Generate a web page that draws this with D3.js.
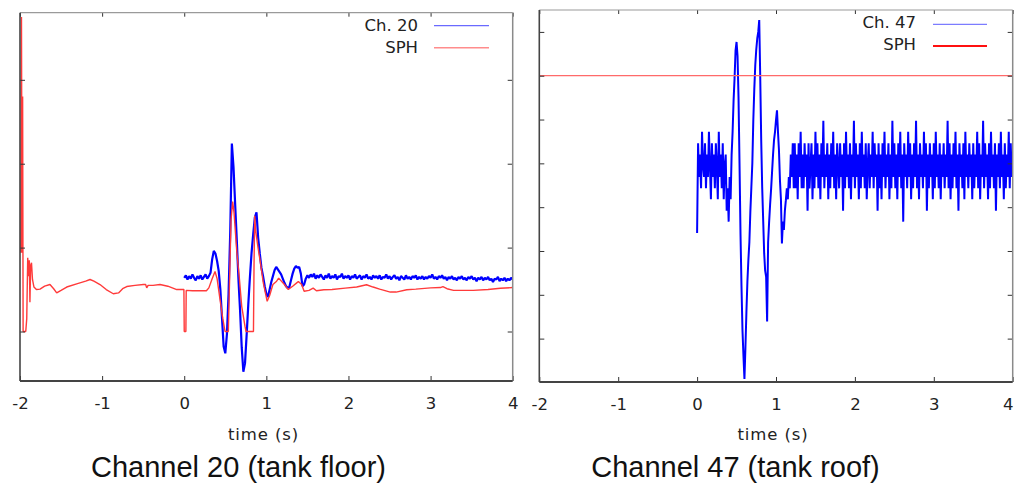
<!DOCTYPE html>
<html>
<head>
<meta charset="utf-8">
<script src="https://cdn.jsdelivr.net/npm/d3@7"></script>
<style>
  body { margin: 0; background: #fff; }
  svg { display: block; }
  .tick text { font-family: "DejaVu Sans", sans-serif; font-size: 16.5px; fill: #222; }
  .gp-text { font-family: "DejaVu Sans", sans-serif; font-size: 16.5px; fill: #222; }
  .caption { font-family: "Liberation Sans", Arial, sans-serif; font-size: 29px; fill: #111; }
</style>
</head>
<body>
<svg id="chart" width="1016" height="486"></svg>
<script>
// ---- shared time axis ----
const timeDomain = [-2, 4];
const timeTicks = [-2, -1, 0, 1, 2, 3, 4];

// ---- Channel 20 (tank floor): sensor sampled every 0.02 s from t = 0 ----
const ch20Start = 0;
const ch20Dt = 0.02;
const ch20Values = [
  6.4, 6.7, 6.2, 6.6, 6.3, 6.8, 6.4, 6.1, 6.6, 6.3, 6.7, 6.2, 6.5, 6.8, 6.3, 6.6,
  7.0, 8.6, 9.6, 9.3, 8.4, 7.2, 5.0, 1.6, -1.8, -2.6,
  -0.3, 4.5, 11.8, 22.4, 19.6, 15.2, 10.9, 6.3, 2.5, -1.9,
  -4.8, -3.8, -0.4, 3.2, 6.5, 9.4, 11.6, 13.6, 14.2, 11.2,
  9.3, 7.6, 6.6, 5.4, 4.5, 4.1, 5.0, 5.9, 6.6, 7.3,
  7.7, 7.4, 7.1, 6.8, 6.3, 5.8, 5.4, 5.2, 5.3, 6.1,
  6.9, 7.5, 7.8, 7.6, 7.7, 6.9, 5.4, 5.6, 6.3, 6.7,
  6.4, 6.8, 6.5, 6.9, 6.3, 6.7, 6.4, 6.8, 6.5, 6.2,
  6.7, 6.4, 6.9, 6.3, 6.6, 6.4, 6.8, 6.2, 6.6, 6.5,
  6.9, 6.3, 6.6, 6.4, 6.7, 6.2, 6.6, 6.4, 6.8, 6.3,
  6.5, 6.7, 6.2, 6.6, 6.4, 6.8, 6.3, 6.5, 6.2, 6.7,
  6.4, 6.6, 6.3, 6.7, 6.2, 6.5, 6.4, 6.8, 6.3, 6.6,
  6.2, 6.5, 6.7, 6.3, 6.5, 6.1, 6.6, 6.4, 6.2, 6.7,
  6.3, 6.5, 6.2, 6.6, 6.4, 6.7, 6.2, 6.5, 6.3, 6.6,
  6.2, 6.5, 6.3, 6.6, 6.4, 6.8, 6.3, 6.5, 6.2, 6.6,
  6.4, 6.7, 6.3, 6.5, 6.1, 6.5, 6.3, 6.6, 6.2, 6.4,
  6.1, 6.5, 6.3, 6.6, 6.2, 6.4, 6.1, 6.5, 6.3, 6.6,
  6.2, 6.4, 6.0, 6.4, 6.2, 6.5, 6.1, 6.4, 6.2, 6.5,
  6.1, 6.3, 5.9, 6.3, 6.2, 6.5, 6.0, 6.3, 6.1, 6.4,
  6.0, 6.3, 6.1, 6.4, 6.2
];

// SPH result at the floor gauge: [time (s), value]
const sphFloor = [
  [-1.990, 9.4], [-1.982, 37.5], [-1.975, 9.4], [-1.968, 28.0], [-1.962, 0.0], [-1.930, 0.0],
  [-1.918, 1.5], [-1.906, 8.8], [-1.896, 6.6], [-1.887, 8.5], [-1.879, 3.5],
  [-1.870, 7.9], [-1.860, 8.2], [-1.848, 6.2], [-1.830, 5.3], [-1.800, 5.0],
  [-1.756, 5.05], [-1.700, 5.4], [-1.635, 5.6], [-1.590, 5.1], [-1.553, 4.6],
  [-1.500, 4.9], [-1.431, 5.3], [-1.300, 5.7], [-1.200, 6.0], [-1.147, 6.2],
  [-1.100, 6.0], [-1.026, 5.6], [-0.950, 5.0], [-0.864, 4.5], [-0.800, 4.6],
  [-0.750, 5.1], [-0.700, 5.36], [-0.600, 5.5], [-0.498, 5.6], [-0.470, 5.6],
  [-0.457, 5.2], [-0.440, 5.5], [-0.380, 5.5], [-0.295, 5.6], [-0.200, 5.4],
  [-0.091, 5.0], [-0.004, 5.0], [0.000, 0.0], [0.020, 0.0], [0.024, 4.9],
  [0.100, 4.85], [0.270, 4.85], [0.300, 5.2], [0.340, 6.3], [0.375, 7.15],
  [0.400, 6.3], [0.436, 3.8], [0.470, 1.5], [0.497, 0.0], [0.537, 0.0],
  [0.558, 8.5], [0.570, 13.3], [0.590, 15.5], [0.607, 14.1], [0.640, 9.5],
  [0.670, 6.5], [0.700, 3.0], [0.740, 0.6], [0.753, 0.0], [0.843, 0.0],
  [0.850, 8.0], [0.858, 13.8], [0.870, 12.0], [0.900, 9.9], [0.923, 8.5],
  [0.963, 5.8], [1.010, 3.6], [1.040, 4.3], [1.080, 5.6], [1.125, 6.0],
  [1.150, 6.36], [1.220, 5.6], [1.267, 5.0], [1.320, 5.4], [1.370, 5.8],
  [1.390, 5.96], [1.430, 5.6], [1.460, 4.8], [1.520, 4.9], [1.570, 5.17],
  [1.610, 4.85], [1.700, 4.97], [1.800, 5.0], [1.960, 5.17], [2.100, 5.3],
  [2.220, 5.57], [2.300, 5.3], [2.380, 5.05], [2.510, 4.7], [2.580, 4.7],
  [2.710, 4.97], [2.820, 5.05], [3.000, 5.2], [3.120, 5.24], [3.150, 5.36],
  [3.200, 5.1], [3.280, 4.9], [3.520, 4.9], [3.700, 5.0], [3.850, 5.15],
  [4.000, 5.24]
];

// ---- Channel 47 (tank roof): sensor sampled every 0.0125 s from t = 0 ----
const ch47Start = 0;
const ch47Dt = 0.0125;
const ch47Values = [
  -1.59, 0.46, -0.31, 0.20, -0.57, 0.72, -0.05, -0.31, 0.46, -0.57,
  0.20, -0.31, 0.72, -0.05, -0.82, 0.46, -0.31, 0.20, -0.57, 0.46,
  -0.05, -0.82, 0.72, -0.31, 0.20, -0.57, 0.46, -0.82, -0.05, 0.20,
  -1.08, -0.57, -1.33, -0.31, -0.82, 0.20, 0.72, 1.44, 1.95, 2.58,
  2.77, 2.45, 1.50, 0.00, -1.60, -2.80, -3.80, -4.39, -4.92, -4.20,
  -3.40, -2.70, -2.20, -1.80, -1.10, -0.55, 0.00, 0.99, 1.70, 2.25,
  2.60, 2.85, 3.00, 3.27, 1.98, 0.53, -0.55, -1.30, -2.05, -2.45,
  -2.59, -3.61, -1.80, -1.35, -0.95, -0.60, -0.20, 0.20, 0.53, 0.72,
  0.99, 1.21, 0.72, 0.30, -0.38, -0.82, -1.83, -1.33, -1.52, -1.08,
  -0.84, -0.57, -0.82, -0.31, -0.57, 0.20, -0.31, 0.46, -0.57,
  0.46, -0.57, 0.20, -0.82, 0.46, -0.31, 0.72, -0.57, 0.20, -0.57,
  0.46, -0.31, 0.20, -1.08, 0.46, -0.57, -0.05, 0.46, -0.82, 0.20,
  -0.57, 0.72, -0.31, 0.46, -0.57, 0.20, -0.82, 0.46, -0.31, 0.97,
  -0.57, 0.20, -0.31, 0.46, -0.82, 0.20, -0.57, 0.46, -0.31, 0.72,
  -0.57, 0.20, -0.82, 0.46, -0.05, -0.57, 0.46, -0.31, 0.20, -1.08,
  0.46, -0.57, 0.72, -0.31, 0.20, -0.57, 0.46, -0.82, 0.20, -0.31,
  0.97, -0.57, 0.46, -0.31, 0.20, -0.82, 0.46, -0.57, 0.72, -0.31,
  0.20, -0.57, 0.46, -0.82, -0.05, 0.46, -0.57, 0.20, -0.31, 0.72,
  -0.57, 0.46, -0.31, 0.20, -1.08, 0.46, -0.57, 0.20, -0.82, 0.46,
  -0.31, 0.72, -0.57, 0.20, -0.31, 0.46, -0.82, 0.20, -0.57, 0.97,
  -0.31, 0.46, -0.57, 0.20, -0.82, 0.46, -0.31, 0.72, -0.57, 0.20,
  -1.33, 0.46, -0.31, 0.20, -0.57, 0.72, -0.31, 0.46, -0.82, 0.20,
  -0.57, 0.46, -0.31, 0.97, -0.57, 0.20, -0.82, 0.46, -0.31, 0.20,
  -0.57, 0.72, -0.31, 0.46, -1.08, 0.20, -0.57, 0.46, -0.31, 0.20,
  -0.82, 0.46, -0.57, 0.72, -0.31, 0.20, -0.57, 0.46, -0.82, 0.20,
  -0.31, 0.46, -0.57, 0.20, -0.31, 0.97, -0.57, 0.46, -0.82, 0.20,
  -0.57, 0.46, -0.31, 0.72, -0.57, 0.20, -1.08, 0.46, -0.31, 0.20,
  -0.57, 0.46, -0.82, 0.72, -0.31, 0.20, -0.57, 0.46, -0.31, 0.20,
  -0.82, 0.46, -0.57, 0.20, -0.31, 0.72, -0.57, 0.46, -0.82, 0.20,
  -0.31, 0.97, -0.57, 0.46, -0.31, 0.20, -0.82, 0.46, -0.57, 0.72,
  -0.31, 0.20, -0.57, 0.46, -1.08, 0.20, -0.31, 0.46, -0.57, 0.72,
  -0.31, 0.20, -0.82, 0.46, -0.57, 0.20, -0.31, 0.72, -0.57, 0.46,
  -0.31, 0.20
];

// SPH result at the roof gauge: [time (s), value]
const sphRoof = [[-2.0, 2.0], [4.0, 2.0]];

// ---- panel definitions ----
const toSeries = (values, start, dt) => values.map((v, i) => ({ t: start + i * dt, v }));
const toPairs = arr => arr.map(([t, v]) => ({ t, v }));

const panels = [
  {
    id: "floor",
    left: 20, right: 512.7, top: 12.7, bottom: 381,
    yDomain: [-5.9, 38.0], yTicks: [0, 10, 20, 30],
    series: [
      { data: toSeries(ch20Values, ch20Start, ch20Dt), color: "#0000ff", width: 2.2 },
      { data: toPairs(sphFloor), color: "#ff3a3a", width: 1.4 }
    ],
    legend: [
      { label: "Ch. 20", color: "#6a6aff", width: 1.2 },
      { label: "SPH", color: "#ff8c8c", width: 1.6 }
    ],
    legendX: 418, legendY: [31, 53], legendLine: [434, 489], legendLineY: [25.7, 47.7],
    xlabelX: 263.5, caption: "Channel 20 (tank floor)", captionX: 238.5,
    lastTickShift: 0
  },
  {
    id: "roof",
    left: 539.3, right: 1012.7, top: 10, bottom: 382,
    yDomain: [-4.99, 3.5], yTicks: [-4, -3, -2, -1, 0, 1, 2, 3],
    series: [
      { data: toSeries(ch47Values, ch47Start, ch47Dt), color: "#0000ff", width: 2.0 },
      { data: toPairs(sphRoof), color: "#ff6a6a", width: 1.3 }
    ],
    legend: [
      { label: "Ch. 47", color: "#7c7cff", width: 1.2 },
      { label: "SPH", color: "#ff1010", width: 2 }
    ],
    legendX: 916, legendY: [27.5, 49.5], legendLine: [933, 987], legendLineY: [24.3, 46],
    xlabelX: 773, caption: "Channel 47 (tank roof)", captionX: 735.5,
    lastTickShift: -5
  }
];

const svg = d3.select("#chart");
const defs = svg.append("defs");

panels.forEach(p => {
  const x = d3.scaleLinear().domain(timeDomain).range([p.left, p.right]);
  const y = d3.scaleLinear().domain(p.yDomain).range([p.bottom, p.top]);
  const g = svg.append("g").attr("class", "panel-" + p.id);

  defs.append("clipPath").attr("id", "clip-" + p.id)
    .append("rect")
    .attr("x", p.left).attr("y", p.top)
    .attr("width", p.right - p.left).attr("height", p.bottom - p.top);

  // data traces
  const plot = g.append("g").attr("clip-path", `url(#clip-${p.id})`);
  const line = d3.line().x(d => x(d.t)).y(d => y(d.v));
  p.series.forEach(s => {
    plot.append("path")
      .datum(s.data)
      .attr("fill", "none")
      .attr("stroke", s.color)
      .attr("stroke-width", s.width)
      .attr("stroke-linejoin", "miter")
      .attr("stroke-miterlimit", 1)
      .attr("d", line);
  });

  // inward ticks on all four sides
  const clean = sel => {
    sel.select(".domain").remove();
    sel.selectAll(".tick line").attr("stroke", "#333");
  };
  const bottomAxis = g.append("g")
    .attr("transform", `translate(0,${p.bottom})`)
    .call(d3.axisBottom(x).tickValues(timeTicks).tickSizeInner(-5).tickSizeOuter(0)
      .tickPadding(16).tickFormat(d => String(d)))
    .call(clean);
  bottomAxis.selectAll(".tick text")
    .filter(d => d === timeTicks[timeTicks.length - 1])
    .attr("dx", p.lastTickShift);
  g.append("g")
    .attr("transform", `translate(0,${p.top})`)
    .call(d3.axisTop(x).tickValues(timeTicks).tickSizeInner(-4).tickSizeOuter(0).tickFormat(""))
    .call(clean);
  g.append("g")
    .attr("transform", `translate(${p.left},0)`)
    .call(d3.axisLeft(y).tickValues(p.yTicks).tickSizeInner(-5).tickSizeOuter(0).tickFormat(""))
    .call(clean);
  g.append("g")
    .attr("transform", `translate(${p.right},0)`)
    .call(d3.axisRight(y).tickValues(p.yTicks).tickSizeInner(-5).tickSizeOuter(0).tickFormat(""))
    .call(clean);

  // frame
  const frame = g.append("g").attr("fill", "none");
  frame.append("line").attr("x1", p.left).attr("x2", p.right).attr("y1", p.top).attr("y2", p.top)
    .attr("stroke", "#9a9a9a").attr("stroke-width", 1.2);
  frame.append("line").attr("x1", p.right).attr("x2", p.right).attr("y1", p.top).attr("y2", p.bottom)
    .attr("stroke", "#8a8a8a").attr("stroke-width", 1.5);
  frame.append("line").attr("x1", p.left).attr("x2", p.left).attr("y1", p.top).attr("y2", p.bottom)
    .attr("stroke", "#444").attr("stroke-width", 1.6);
  frame.append("line").attr("x1", p.left).attr("x2", p.right).attr("y1", p.bottom).attr("y2", p.bottom)
    .attr("stroke", "#444").attr("stroke-width", 1.8);

  // key
  p.legend.forEach((item, i) => {
    g.append("text").attr("class", "gp-text")
      .attr("x", p.legendX).attr("y", p.legendY[i])
      .attr("text-anchor", "end").text(item.label);
    g.append("line")
      .attr("x1", p.legendLine[0]).attr("x2", p.legendLine[1])
      .attr("y1", p.legendLineY[i]).attr("y2", p.legendLineY[i])
      .attr("stroke", item.color).attr("stroke-width", item.width);
  });

  // axis title and panel caption
  g.append("text").attr("class", "gp-text")
    .attr("x", p.xlabelX).attr("y", 440)
    .attr("text-anchor", "middle").style("letter-spacing", "0.9px")
    .text("time (s)");
  g.append("text").attr("class", "caption")
    .attr("x", p.captionX).attr("y", 477)
    .attr("text-anchor", "middle")
    .text(p.caption);
});
</script>
</body>
</html>
